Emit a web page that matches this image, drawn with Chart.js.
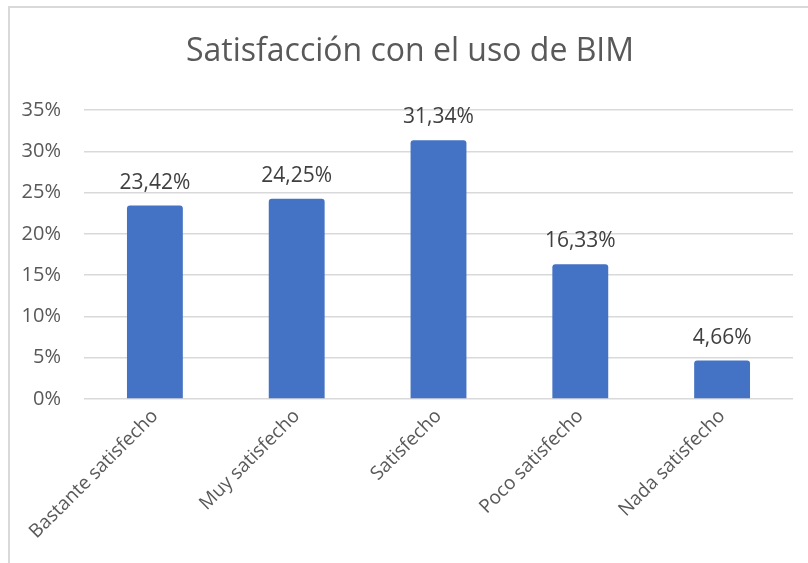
<!DOCTYPE html>
<html>
<head>
<meta charset="utf-8">
<script src="https://cdn.jsdelivr.net/npm/chart.js@4/dist/chart.umd.min.js"></script>
<style>
	html, body { margin: 0; padding: 0; background: #fff; overflow: hidden; }
	#frame {
		position: absolute; left: 8px; top: 6px; width: 900px; height: 700px;
		border-left: 2px solid #d9d9d9; border-top: 2px solid #d9d9d9;
	}
	#wrap { position: absolute; left: 0; top: 0; width: 808px; height: 563px; }
</style>
</head>
<body>
<div id="frame"></div>
<div id="wrap"><canvas id="bim-graph" width="808" height="563"></canvas></div>
<script>
const chartTitle = "Satisfacción con el uso de BIM";
const categories = [
	"Bastante satisfecho",
	"Muy satisfecho",
	"Satisfecho",
	"Poco satisfecho",
	"Nada satisfecho",
];
const percentages = [23.42, 24.25, 31.34, 16.33, 4.66];
const valueLabels = ["23,42%", "24,25%", "31,34%", "16,33%", "4,66%"];
const yMax = 35;
const yStep = 5;

const FONT = "'Open Sans', sans-serif";

//draws the value above each bar
const valueLabelPlugin = {
	id: "valueLabels",
	afterDatasetsDraw(chart) {
		const ctx = chart.ctx;
		const meta = chart.getDatasetMeta(0);
		ctx.save();
		ctx.font = "21px " + FONT;
		ctx.fillStyle = "#404040";
		ctx.textAlign = "center";
		ctx.textBaseline = "alphabetic";
		meta.data.forEach((bar, i) => {
			ctx.fillText(valueLabels[i], bar.x, bar.y - 17);
		});
		ctx.restore();
	},
};

//title drawn by hand so it doesn't push the plot area around
const titlePlugin = {
	id: "bimTitle",
	afterDraw(chart) {
		const ctx = chart.ctx;
		ctx.save();
		ctx.font = "32px " + FONT;
		ctx.fillStyle = "#595959";
		ctx.textAlign = "center";
		ctx.textBaseline = "middle";
		ctx.fillText(chartTitle, 410, 52);
		ctx.restore();
	},
};

const config = {
	type: "bar",
	data: {
		labels: categories,
		datasets: [
			{
				data: percentages,
				backgroundColor: "#4472C4",
				borderRadius: 3,
				borderSkipped: "bottom",
				categoryPercentage: 1,
				barPercentage: 0.394,
			},
		],
	},
	options: {
		responsive: false,
		animation: false,
		layout: {
			padding: { top: 110, right: 15, left: 0, bottom: 0 },
		},
		scales: {
			y: {
				min: 0,
				max: yMax,
				border: { display: false },
				grid: {
					color: "#d9d9d9",
					lineWidth: 1.5,
					drawTicks: false,
					tickLength: 0,
				},
				ticks: {
					stepSize: yStep,
					padding: 23,
					color: "#595959",
					font: { family: FONT, size: 20 },
					callback: (v) => v + "%",
				},
				afterFit: (scale) => {
					scale.width = 84;
				},
			},
			x: {
				border: { display: false },
				grid: { display: false, drawTicks: false },
				ticks: {
					minRotation: 45,
					maxRotation: 45,
					padding: 6,
					color: "#595959",
					font: { family: FONT, size: 19 },
				},
				afterFit: (scale) => {
					scale.height = 164;
				},
			},
		},
		plugins: {
			legend: { display: false },
			tooltip: { enabled: false },
			title: { display: false },
		},
	},
	plugins: [valueLabelPlugin, titlePlugin],
};

const bimGraph = new Chart(document.getElementById("bim-graph"), config);
</script>
</body>
</html>
